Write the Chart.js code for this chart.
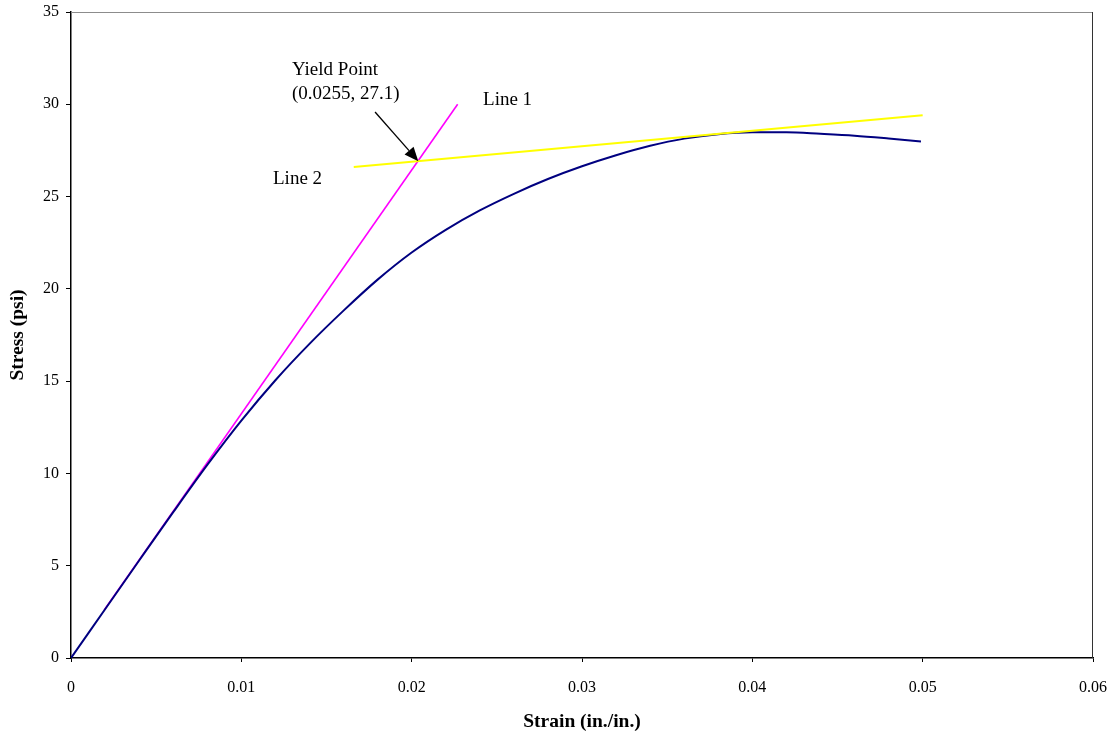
<!DOCTYPE html>
<html>
<head>
<meta charset="utf-8">
<script src="https://cdn.jsdelivr.net/npm/chart.js@4/dist/chart.umd.min.js"></script>
<style>
  html, body { margin: 0; padding: 0; background: #fff; }
  #wrap { width: 1116px; height: 740px; position: relative; }
</style>
</head>
<body>
<div id="wrap"><canvas id="c" width="1116" height="740"></canvas></div>
<script>
// ---- data ----
const strainCurve = [0, 0.002, 0.004, 0.006, 0.008, 0.010, 0.012, 0.014, 0.016, 0.018, 0.020, 0.022, 0.024, 0.026, 0.028, 0.030, 0.032, 0.034, 0.036, 0.038, 0.040, 0.042, 0.044, 0.046, 0.048, 0.0499];
const stressCurve = [0, 2.64, 5.28, 7.9, 10.46, 12.86, 15.05, 17.02, 18.82, 20.5, 21.97, 23.2, 24.25, 25.15, 25.95, 26.64, 27.24, 27.75, 28.14, 28.38, 28.48, 28.48, 28.4, 28.3, 28.15, 27.99];
const line1Strain = [0.00195, 0.0227];
const line1Stress = [2.6, 30.0];
const line2Strain = [0.0166, 0.050];
const line2Stress = [26.6, 29.4];
const xTickLabels = ['0', '0.01', '0.02', '0.03', '0.04', '0.05', '0.06'];
const yTickLabels = ['0', '5', '10', '15', '20', '25', '30', '35'];
const arrowFrom = [0.01785, 29.58];
const arrowTo = [0.02039, 26.92];
const annotations = [
  { text: 'Yield Point', x: 0.01297, y: 31.88 },
  { text: '(0.0255, 27.1)', x: 0.01297, y: 30.58 },
  { text: 'Line 1', x: 0.02419, y: 30.22 },
  { text: 'Line 2', x: 0.01186, y: 25.94 }
];

const pts = (xs, ys) => xs.map((x, i) => ({ x: x, y: ys[i] }));

const SERIF = '"Liberation Serif", "Times New Roman", serif';

const decorPlugin = {
  id: 'decor',
  afterDatasetsDraw(chart) {
    const { ctx, chartArea, scales } = chart;
    const xs = scales.x, ys = scales.y;
    ctx.save();
    // top and right frame
    ctx.lineWidth = 1;
    ctx.strokeStyle = '#8c8c8c';
    ctx.beginPath();
    ctx.moveTo(chartArea.left, chartArea.top + 0.5);
    ctx.lineTo(chartArea.right, chartArea.top + 0.5);
    ctx.stroke();
    ctx.strokeStyle = '#333';
    ctx.beginPath();
    ctx.moveTo(chartArea.right - 0.5, chartArea.top);
    ctx.lineTo(chartArea.right - 0.5, chartArea.bottom);
    ctx.stroke();
    // arrow
    const x1 = xs.getPixelForValue(arrowFrom[0]), y1 = ys.getPixelForValue(arrowFrom[1]);
    const x2 = xs.getPixelForValue(arrowTo[0]), y2 = ys.getPixelForValue(arrowTo[1]);
    const ang = Math.atan2(y2 - y1, x2 - x1);
    const hl = 14, hw = 6;
    const bx = x2 - hl * Math.cos(ang), by = y2 - hl * Math.sin(ang);
    ctx.strokeStyle = '#000';
    ctx.lineWidth = 1.3;
    ctx.beginPath();
    ctx.moveTo(x1, y1);
    ctx.lineTo(bx, by);
    ctx.stroke();
    ctx.fillStyle = '#000';
    ctx.beginPath();
    ctx.moveTo(x2, y2);
    ctx.lineTo(bx + hw * Math.sin(ang), by - hw * Math.cos(ang));
    ctx.lineTo(bx - hw * Math.sin(ang), by + hw * Math.cos(ang));
    ctx.closePath();
    ctx.fill();
    // text annotations
    ctx.font = '19px ' + SERIF;
    ctx.fillStyle = '#000';
    ctx.textAlign = 'left';
    ctx.textBaseline = 'middle';
    annotations.forEach(a => {
      ctx.fillText(a.text, xs.getPixelForValue(a.x), ys.getPixelForValue(a.y));
    });
    ctx.restore();
  }
};

new Chart(document.getElementById('c'), {
  type: 'scatter',
  data: {
    datasets: [
      {
        label: 'Line 2',
        data: pts(line2Strain, line2Stress),
        showLine: true,
        borderColor: '#FFFF00',
        borderWidth: 2,
        pointRadius: 0,
        order: 0
      },
      {
        label: 'Stress-Strain',
        data: pts(strainCurve, stressCurve),
        showLine: true,
        borderColor: '#000080',
        borderWidth: 2,
        pointRadius: 0,
        cubicInterpolationMode: 'monotone',
        order: 1
      },
      {
        label: 'Line 1',
        data: pts(line1Strain, line1Stress),
        showLine: true,
        borderColor: '#FF00FF',
        borderWidth: 1.6,
        pointRadius: 0,
        order: 2
      }
    ]
  },
  options: {
    responsive: false,
    animation: false,
    events: [],
    layout: { padding: { top: 12, right: 23, left: 0, bottom: 0 } },
    plugins: { legend: { display: false }, tooltip: { enabled: false } },
    scales: {
      x: {
        type: 'linear',
        min: 0, max: 0.06,
        afterFit(s) { s.height = 82; s.paddingLeft = 0; s.paddingRight = 0; },
        afterBuildTicks(s) { s.ticks = xTickLabels.map((t, i) => ({ value: i * 0.01 })); },
        grid: { drawOnChartArea: false, drawTicks: true, tickLength: 4, color: '#000', lineWidth: 1 },
        border: { display: true, color: '#000', width: 1.5 },
        ticks: {
          padding: 16,
          color: '#000',
          font: { family: SERIF, size: 16 },
          maxRotation: 0,
          callback: (v, i) => xTickLabels[i]
        },
        title: {
          display: true,
          text: 'Strain (in./in.)',
          color: '#000',
          font: { family: SERIF, size: 19.5, weight: 'bold' },
          padding: { top: 0, bottom: 6 }
        }
      },
      y: {
        type: 'linear',
        min: 0, max: 35,
        afterFit(s) { s.width = 71; s.paddingTop = 0; s.paddingBottom = 0; },
        afterBuildTicks(s) { s.ticks = yTickLabels.map((t, i) => ({ value: i * 5 })); },
        grid: { drawOnChartArea: false, drawTicks: true, tickLength: 5, color: '#000', lineWidth: 1 },
        border: { display: true, color: '#000', width: 1.5 },
        ticks: {
          padding: 7,
          color: '#000',
          font: { family: SERIF, size: 16 },
          callback: (v, i) => yTickLabels[i]
        },
        title: {
          display: true,
          text: 'Stress (psi)',
          color: '#000',
          font: { family: SERIF, size: 19.5, weight: 'bold' },
          padding: { top: 6, bottom: 0 }
        }
      }
    }
  },
  plugins: [decorPlugin]
});
</script>
</body>
</html>
